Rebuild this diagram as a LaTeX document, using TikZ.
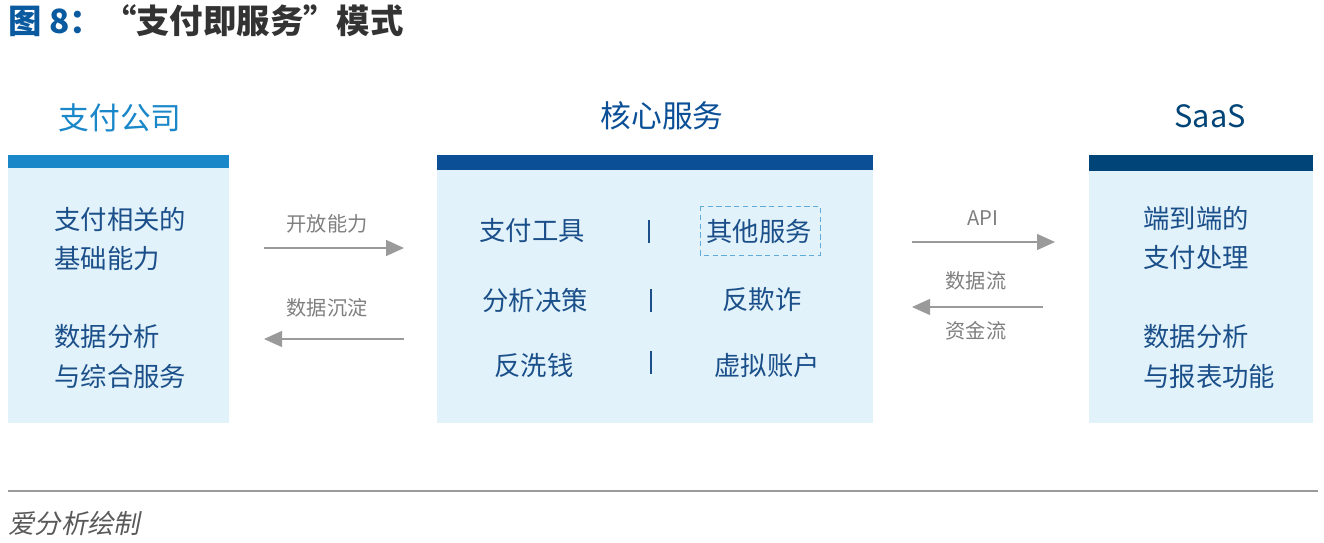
\documentclass[tikz,border=0pt]{standalone}
\usepackage{fontspec}
\setmainfont{Noto Sans CJK SC}
\newfontfamily\cjkslant[FakeSlant=0.2]{Noto Sans CJK SC}
\usetikzlibrary{arrows.meta}
\definecolor{barlight}{HTML}{1A87C9}
\definecolor{barmid}{HTML}{0B4F96}
\definecolor{bardark}{HTML}{014477}
\definecolor{boxfill}{HTML}{E2F2FA}
\definecolor{boxtext}{HTML}{1B4F8A}
\definecolor{titleblue}{HTML}{0A5AA0}
\definecolor{arrowgray}{HTML}{9A9A9A}
\definecolor{labelgray}{HTML}{7F7F7F}
\tikzset{
  boxbody/.style={fill=boxfill, draw=none},
  item/.style={text=boxtext, font=\fontsize{15}{18}\selectfont, inner sep=0pt},
  itemleft/.style={item, anchor=west},
  flowlabel/.style={text=labelgray, font=\fontsize{11.5}{14}\selectfont, inner sep=0pt},
  flowarrow/.style={draw=arrowgray, line width=0.8pt, -{Triangle[length=0.36cm, width=0.32cm]}},
  sepline/.style={draw=boxtext, line width=0.7pt}
}
\begin{document}
\begin{tikzpicture}[x=0.02cm, y=-0.02cm]
    \useasboundingbox (0,0) rectangle (1324,543);

    % Title
    \node[anchor=west, inner sep=0pt, font=\bfseries\fontsize{19}{22}\selectfont] (title) at (8,21)
        {\textcolor{titleblue}{图 8：}\textcolor{black!80}{“支付即服务”模式}};

    % Column headers
    \node[text=barlight, font=\fontsize{17.5}{20}\selectfont] (hpay) at (120,118) {支付公司};
    \node[text=barmid, font=\fontsize{17.5}{20}\selectfont] (hcore) at (662,116) {核心服务};
    \node[text=bardark, font=\fontsize{17.5}{20}\selectfont] (hsaas) at (1210,116) {SaaS};

    % Left box: payment company
    \fill[boxbody] (8,155) rectangle (229,423);
    \fill[barlight] (8,155) rectangle (229,168);
    \node[itemleft] (p1) at (54,219) {支付相关的};
    \node[itemleft] (p2) at (54,259) {基础能力};
    \node[itemleft] (p3) at (54,337) {数据分析};
    \node[itemleft] (p4) at (54,376) {与综合服务};

    % Middle box: core services
    \fill[boxbody] (437,155) rectangle (873,423);
    \fill[barmid] (437,155) rectangle (873,170);
    \node[item] (c1) at (532,231) {支付工具};
    \node[item] (c2) at (759,231) {其他服务};
    \draw[densely dashed, draw=barlight!70, line width=0.5pt] (700,206) rectangle (820,255);
    \node[item] (c3) at (535,300) {分析决策};
    \node[item] (c4) at (762,300) {反欺诈};
    \node[item] (c5) at (534,365) {反洗钱};
    \node[item] (c6) at (767,365) {虚拟账户};
    \draw[sepline] (649,220) -- (649,243);
    \draw[sepline] (651,289) -- (651,312);
    \draw[sepline] (651,351) -- (651,374);

    % Right box: SaaS
    \fill[boxbody] (1089,155) rectangle (1313,423);
    \fill[bardark] (1089,155) rectangle (1313,171);
    \node[itemleft] (s1) at (1143,218) {端到端的};
    \node[itemleft] (s2) at (1143,258) {支付处理};
    \node[itemleft] (s3) at (1143,337) {数据分析};
    \node[itemleft] (s4) at (1143,376) {与报表功能};

    % Flows between payment company and core
    \coordinate (open1) at (264,248);
    \coordinate (open2) at (404,248);
    \coordinate (sink1) at (404,339);
    \coordinate (sink2) at (264,339);
    \draw[flowarrow] (open1) -- (open2);
    \draw[flowarrow] (sink1) -- (sink2);
    \node[flowlabel] (lopen) at (327,224) {开放能力};
    \node[flowlabel] (lsink) at (327,308) {数据沉淀};

    % Flows between core and SaaS
    \coordinate (api1) at (912,242);
    \coordinate (api2) at (1055,242);
    \coordinate (back1) at (1043,307);
    \coordinate (back2) at (912,307);
    \draw[flowarrow] (api1) -- (api2);
    \draw[flowarrow] (back1) -- (back2);
    \node[flowlabel] (lapi) at (983,218) {API};
    \node[flowlabel] (ldata) at (976,281) {数据流};
    \node[flowlabel] (lfund) at (976,331) {资金流};

    % Source
    \draw[draw=arrowgray, line width=0.8pt] (8,491) -- (1318,491);
    \node[anchor=west, inner sep=0pt, text=black!65, font=\cjkslant\fontsize{15}{18}\selectfont] (source) at (8,523) {爱分析绘制};
\end{tikzpicture}
\end{document}
